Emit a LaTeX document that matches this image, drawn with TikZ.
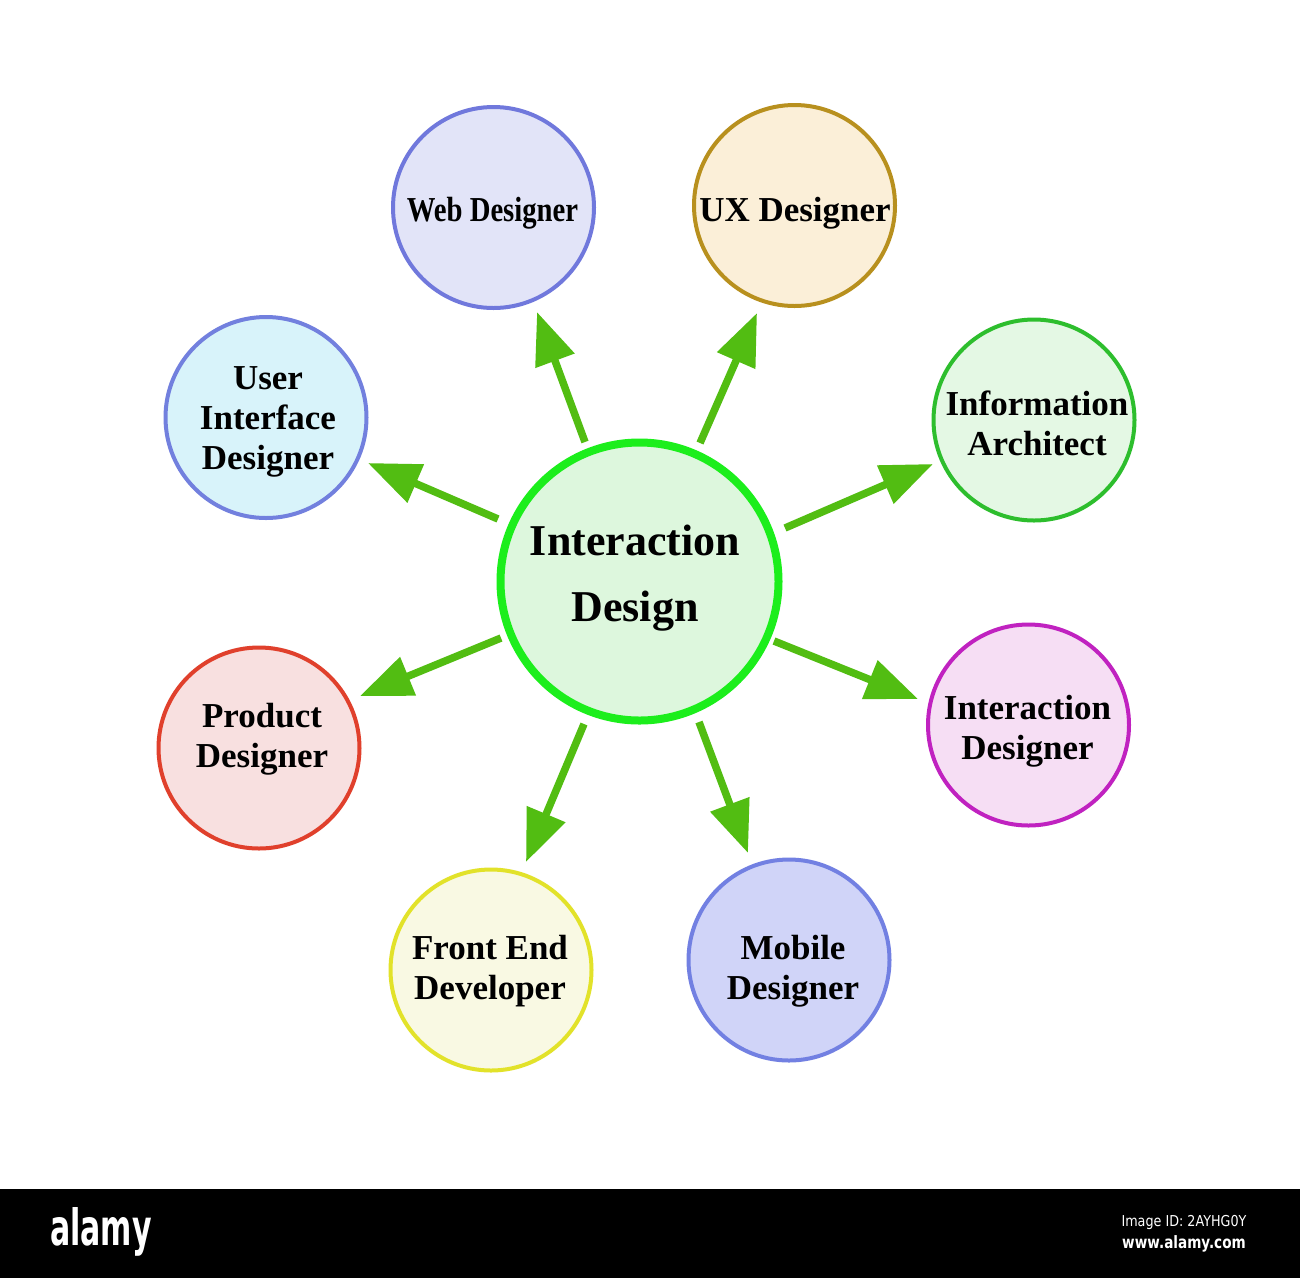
\documentclass[tikz,border=0pt]{standalone}
\usepackage{fontspec}
\setmainfont{Liberation Serif}
\newfontfamily\wmfont{DejaVu Sans}
\usepackage{graphicx}
\usetikzlibrary{arrows.meta}
\definecolor{arrowG}{HTML}{52BD12}
\definecolor{hubD}{HTML}{1CEE1C}
\definecolor{hubF}{HTML}{DDF7DD}
\definecolor{webD}{HTML}{7078DC}
\definecolor{webF}{HTML}{E2E4F8}
\definecolor{uxD}{HTML}{B8901E}
\definecolor{uxF}{HTML}{FBEFD8}
\definecolor{infoD}{HTML}{2DBE2D}
\definecolor{infoF}{HTML}{E4F8E4}
\definecolor{idD}{HTML}{C022C0}
\definecolor{idF}{HTML}{F6DEF4}
\definecolor{mobD}{HTML}{7280E2}
\definecolor{mobF}{HTML}{D0D4F8}
\definecolor{feD}{HTML}{E2E22A}
\definecolor{feF}{HTML}{F9F9E3}
\definecolor{pdD}{HTML}{E0402C}
\definecolor{pdF}{HTML}{F8E0E0}
\definecolor{uiD}{HTML}{7280DE}
\definecolor{uiF}{HTML}{D8F3FA}
\begin{document}
\begin{tikzpicture}[x=1pt,y=-1pt,
  sat/.style={circle, minimum size=201pt, inner sep=0pt, line width=4pt},
  hub/.style={circle, minimum size=278pt, inner sep=0pt, line width=8pt, draw=hubD, fill=hubF},
  lbl/.style={font=\bfseries\fontsize{35}{40}\selectfont, align=center, inner sep=0pt, text=black},
  arr/.style={draw=arrowG, line width=7.5pt, -{Triangle[length=52pt,width=40pt]}},
  wm/.style={text=white, inner sep=0pt}
]
\path[use as bounding box] (0,0) rectangle (1300,1278);
\fill[white] (0,0) rectangle (1300,1189);
\fill[black] (0,1189) rectangle (1300,1278);

% hub
\node[hub] (c) at (639.5,581.5) {};
\node[lbl, font=\bfseries\fontsize{44}{66}\selectfont] (cT) at (635,578) {Interaction\\Design};

% satellites
\node[sat, draw=webD, fill=webF] (web) at (493.5,207.5) {};
\node[lbl] (webT) at (492.5,213) {\scalebox{0.82}[1]{Web Designer}};

\node[sat, draw=uxD, fill=uxF] (ux) at (794.5,205.5) {};
\node[lbl] (uxT) at (795,213) {UX Designer};

\node[sat, draw=infoD, fill=infoF] (info) at (1034,420) {};
\node[lbl] (infoT) at (1037,423) {Information\\Architect};

\node[sat, draw=idD, fill=idF] (ides) at (1028.5,725) {};
\node[lbl] (idesT) at (1027.5,731) {Interaction\\Designer};

\node[sat, draw=mobD, fill=mobF] (mob) at (789,960) {};
\node[lbl] (mobT) at (793,971) {Mobile\\Designer};

\node[sat, draw=feD, fill=feF] (fe) at (491,970) {};
\node[lbl] (feT) at (490,971) {Front End\\Developer};

\node[sat, draw=pdD, fill=pdF] (pd) at (259,748) {};
\node[lbl] (pdT) at (262,739) {Product\\Designer};

\node[sat, draw=uiD, fill=uiF] (ui) at (266,417.5) {};
\node[lbl] (uiT) at (268,422) {User\\Interface\\Designer};

% arrows (start offset from hub centre, tip offset from target centre)
\foreach \t/\sx/\sy/\ex/\ey in {
    web/-54.5/-139.5/43.5/104.5,
    ux/60.5/-138.5/-37.5/107.5,
    info/145.5/-53.5/-101/44,
    ides/134.5/59.5/-110.5/-26,
    mob/59.5/140.5/-41/-107,
    fe/-55.5/142.5/35/-108,
    pd/-138.5/56.5/101/-52,
    ui/-141.5/-62.5/102/45.5}
  \draw[arr] ([shift={(\sx,\sy)}]c.center) -- ([shift={(\ex,\ey)}]\t.center);

% footer
\node[wm, font=\wmfont\bfseries\fontsize{50}{50}\selectfont] (wmA) at (101,1232) {\scalebox{0.6}[1]{alamy}};
\node[wm, font=\wmfont\fontsize{15}{15}\selectfont] (wmB) at (1184,1222) {\scalebox{0.85}[1]{Image ID: 2AYHG0Y}};
\node[wm, font=\wmfont\bfseries\fontsize{17}{17}\selectfont] (wmC) at (1184,1244) {\scalebox{0.8}[1]{www.alamy.com}};
\end{tikzpicture}
\end{document}
